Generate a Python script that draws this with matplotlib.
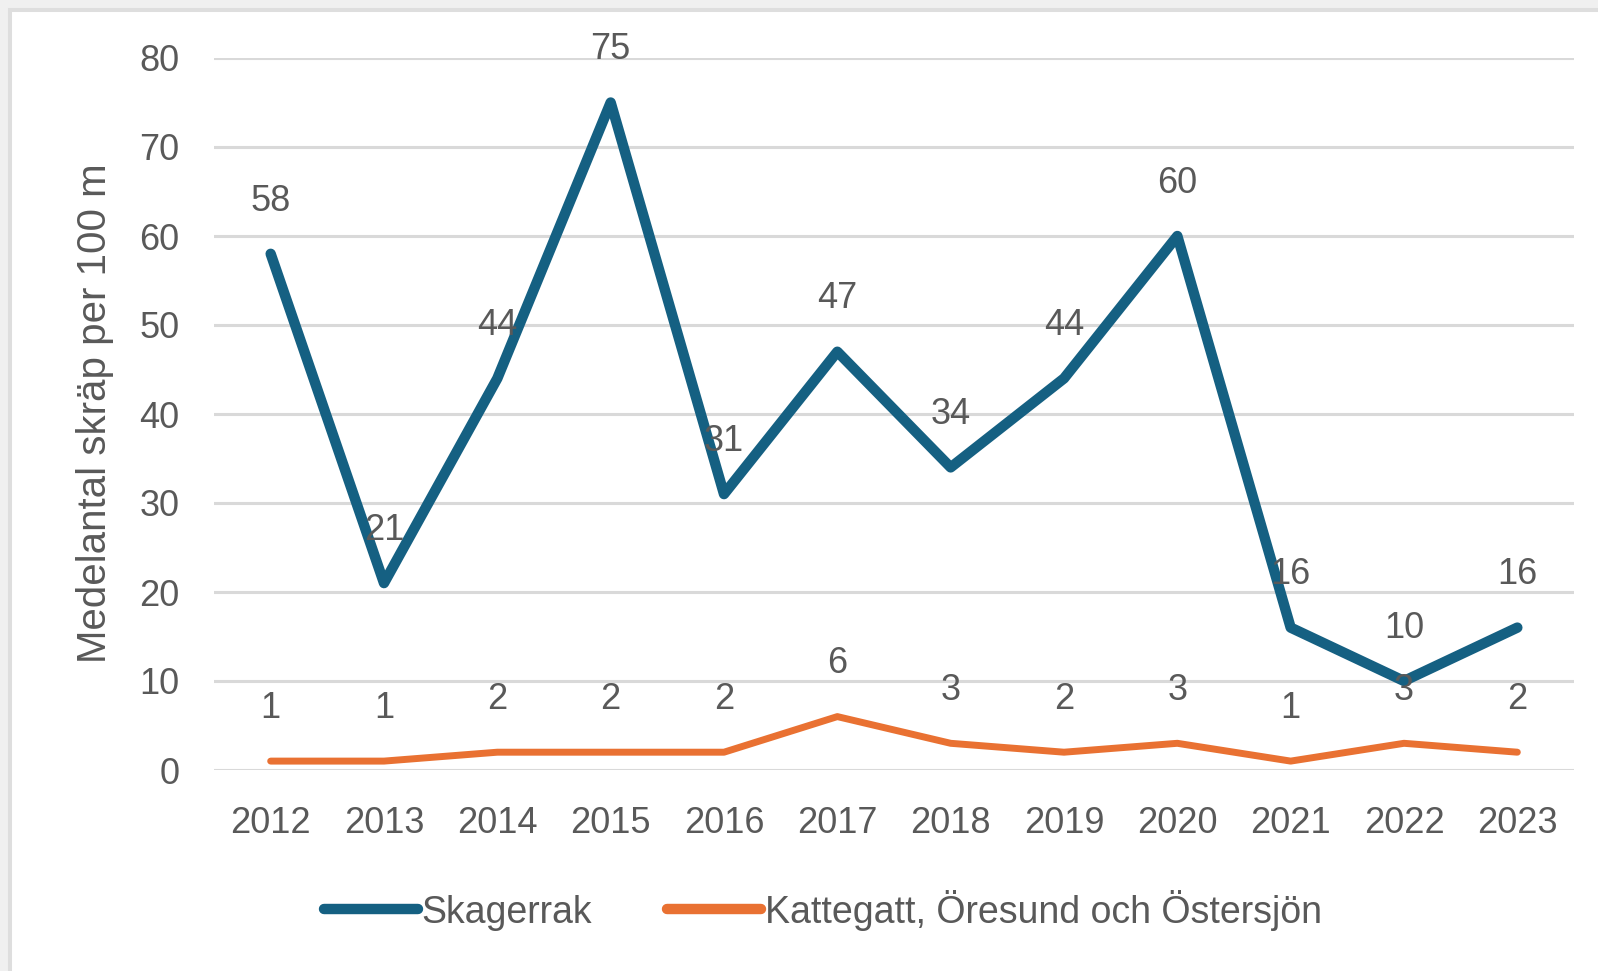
import matplotlib.pyplot as plt
from matplotlib.patches import Rectangle

plt.rcParams['font.family'] = ['Liberation Sans', 'DejaVu Sans']

years = ['2012', '2013', '2014', '2015', '2016', '2017',
         '2018', '2019', '2020', '2021', '2022', '2023']
skagerrak = [58, 21, 44, 75, 31, 47, 34, 44, 60, 16, 10, 16]
kattegatt = [1, 1, 2, 2, 2, 6, 3, 2, 3, 1, 3, 2]
series_names = ['Skagerrak', 'Kattegatt, Öresund och Östersjön']
ylabel = 'Medelantal skräp per 100 m'

blue = '#156082'
orange = '#E97132'
txt = '#595959'
fs = 26

fig = plt.figure(figsize=(15.98, 9.71), dpi=100, facecolor='#f0f0f0')
fig.patches.append(Rectangle((10 / 1598, -0.05), 1.1, 1.05 - 10 / 971,
                             transform=fig.transFigure, facecolor='white',
                             edgecolor='#dedede', linewidth=2.9, zorder=-10))

ax = fig.add_axes([214 / 1598, 1 - 770 / 971, 1360 / 1598, 712 / 971])
ax.set_facecolor('none')

x = list(range(len(years)))
ax.plot(x, skagerrak, color=blue, lw=7.5, solid_capstyle='round',
        solid_joinstyle='round', label=series_names[0], zorder=3)
ax.plot(x, kattegatt, color=orange, lw=5, solid_capstyle='round',
        solid_joinstyle='round', label=series_names[1], zorder=3)

# data labels above each point
for xi, v in zip(x, skagerrak):
    ax.annotate(str(v), (xi, v), xytext=(0, 38), textcoords='offset points',
                ha='center', va='center', fontsize=fs, color=txt, zorder=4)
for xi, v in zip(x, kattegatt):
    ax.annotate(str(v), (xi, v), xytext=(0, 38), textcoords='offset points',
                ha='center', va='center', fontsize=fs, color=txt, zorder=4)

ax.set_xlim(-0.5, len(years) - 0.5)
ax.set_ylim(0, 80)
ax.set_yticks(range(0, 81, 10))
ax.set_xticks(x)
ax.set_xticklabels(years)
ax.grid(axis='y', color='#d9d9d9', lw=2.2, zorder=1)
ax.set_axisbelow(True)
for s in ax.spines.values():
    s.set_visible(False)
ax.tick_params(axis='both', length=0, labelsize=fs, labelcolor=txt)
ax.tick_params(axis='y', pad=25)
ax.tick_params(axis='x', pad=26)

fig.text(95 / 1598, 1 - 413 / 971, ylabel, rotation=90, ha='center',
         va='center', fontsize=29, color=txt)

leg = fig.legend(loc='center', bbox_to_anchor=(823 / 1598, 1 - 910 / 971),
                 ncol=2, frameon=False, handlelength=2.5,
                 handletextpad=0.1, columnspacing=2.0,
                 prop={'family': 'Liberation Sans', 'size': 27})
for t in leg.get_texts():
    t.set_color(txt)
for h in leg.get_lines():
    h.set_linewidth(7.5)

fig.savefig('out.png', dpi=100, facecolor=fig.get_facecolor())
